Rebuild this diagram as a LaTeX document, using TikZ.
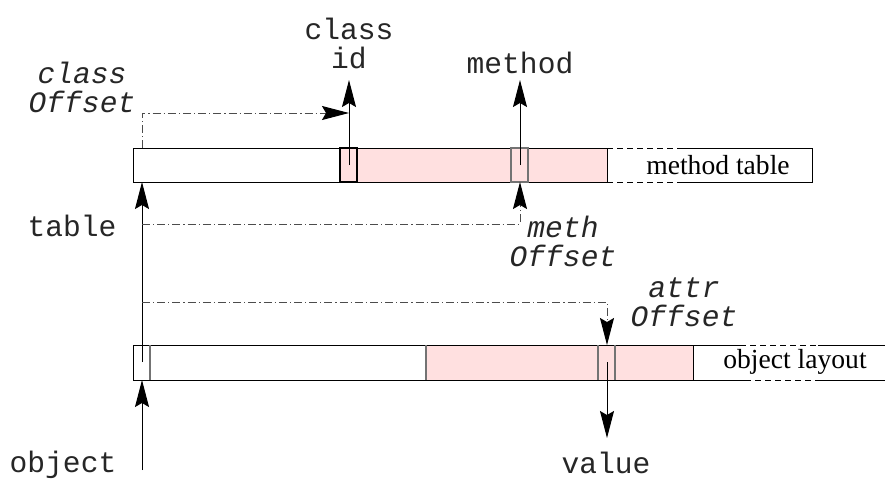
\documentclass[tikz,border=0pt]{standalone}
\usepackage{fontspec}
\setmainfont{Liberation Serif}
\setmonofont{Liberation Mono}
\usetikzlibrary{arrows.meta}
\definecolor{slotpink}{RGB}{255,224,224}
\tikzset{
  ptr/.style={-{Stealth[length=13.5pt,width=7pt,inset=2pt,black]}},
  offs/.style={ptr,black!70,dash pattern=on 4pt off 1.5pt on 0.6pt off 1.5pt},
  code/.style={font=\fontsize{14.8}{14.5}\selectfont\ttfamily,text=black!85,align=center,inner sep=0pt},
  offlbl/.style={code,font=\fontsize{14.8}{14.5}\selectfont\ttfamily\itshape},
  barname/.style={font=\fontsize{13.8}{16}\selectfont,inner sep=0pt}
}
\begin{document}
\begin{tikzpicture}[x=0.5pt,y=-0.5pt,line width=0.5pt]
  \useasboundingbox (0,0) rectangle (885,478);
  % method table
  \fill[slotpink] (340,148) rectangle (607,182);
  \draw (133,148) rectangle (607,182);
  \draw[dash pattern=on 3pt off 2pt] (607,148) -- (677,148) (607,182) -- (683,182);
  \draw (677,148) -| (812,182) -- (683,182);
  \foreach \x/\c in {340/black,511/black!55}
    \draw[\c,line width=0.7pt] (\x,148) rectangle +(17,34);
  % object layout
  \fill[slotpink] (426,345) rectangle (693,380);
  \draw (133,345) rectangle (693,380);
  \draw (693,345) -- (740,345) (693,380) -- (745,380) (818,345) -- (885,345) (820,380) -- (885,380);
  \draw[dash pattern=on 3pt off 2pt] (740,345) -- (818,345) (745,380) -- (820,380);
  \foreach \x in {150,426,598,615}
    \draw[black!55,line width=0.7pt] (\x,345) -- (\x,380);
  \node[barname] (mtab) at (718,165) {method table};
  \node[barname] (olay) at (795,362) {object layout};
  % labels
  \node[code] (object) at (63,465) {object};
  \node[code] (table) at (72,226) {table};
  \node[code] (clsid) at (349,43) {class\\id};
  \node[code] (meth) at (520,63) {method};
  \node[code] (value) at (606,463) {value};
  \node[offlbl] (clsoff) at (82,87) {class\\Offset};
  \node[offlbl] (methoff) at (563,241) {meth\\Offset};
  \node[offlbl] (attroff) at (684,302) {attr\\Offset};
  % slots and ends
  \coordinate (oslot) at (142,362);
  \coordinate (cslot) at (349,165);
  \coordinate (mslot) at (520,165);
  \coordinate (vslot) at (607,362);
  \coordinate (tabtop) at (142,148);
  \coordinate (tabbot) at (142,182);
  \coordinate (objtop) at (142,345);
  \coordinate (objbot) at (142,380);
  \coordinate (objref) at (142,470);
  \coordinate (cend) at (349,80);
  \coordinate (mend) at (520,80);
  \coordinate (vend) at (607,438);
  \coordinate (coff) at (349,113);
  % pointers
  \draw[ptr] (objref) -- (objbot);
  \draw[ptr] (oslot) -- (tabbot);
  \draw[ptr] (cslot) -- (cend);
  \draw[ptr] (mslot) -- (mend);
  \draw[ptr] (vslot) -- (vend);
  % offsets
  \draw[offs] (tabtop) |- (coff);
  \draw[offs] (tabbot |- 0,224) -| (mslot |- tabbot);
  \draw[offs] (objtop |- attroff) -| (vslot |- objtop);
\end{tikzpicture}
\end{document}
